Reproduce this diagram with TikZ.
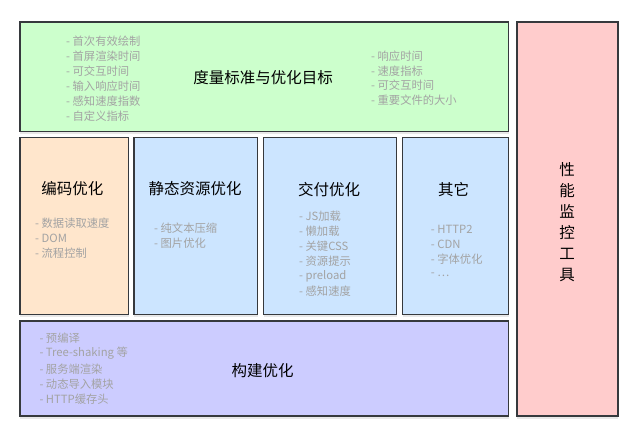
\documentclass[tikz,border=0pt]{standalone}
\usepackage{fontspec}
\setmainfont{Noto Sans CJK SC}
\usepackage{tikz}
\usetikzlibrary{positioning}
\usetikzlibrary{shadows}
\definecolor{boxline}{HTML}{36393D}
\definecolor{goalgreen}{HTML}{CCFFCC}
\definecolor{toolred}{HTML}{FFCCCC}
\definecolor{codeorange}{HTML}{FFE6CC}
\definecolor{optblue}{HTML}{CCE5FF}
\definecolor{buildpurple}{HTML}{CCCCFF}
\definecolor{itemgray}{HTML}{A3A3A3}
\tikzset{panel/.style={draw=boxline, line width=1.4pt, inner sep=0pt,
    drop shadow={opacity=0.18, shadow xshift=0pt, shadow yshift=-2.5pt}}}
\tikzset{title/.style={font=\fontsize{15.5}{19}\selectfont, text=black, inner sep=0pt}}
\tikzset{item/.style={font=\fontsize{11.3}{14}\selectfont, text=itemgray, anchor=west, inner sep=0pt}}

\begin{document}
\begin{tikzpicture}[x=1pt,y=-1pt]
    \useasboundingbox (0,0) rectangle (638,436);
    % boxes
    \foreach \lab/\xa/\ya/\xb/\yb/\c in {
      goal/20/22/508.5/131.5/goalgreen,
      tools/517/22/618/416/toolred,
      code/20/137.5/128.5/314.5/codeorange,
      static/134/137.5/257.5/314.5/optblue,
      deliver/263.5/137.5/396.5/314.5/optblue,
      other/402.5/137.5/508.5/314.5/optblue,
      build/20/321/508.5/416/buildpurple%
    } {
      \node[panel, fill=\c, minimum width={(\xb-\xa)*1pt}, minimum height={(\yb-\ya)*1pt}]
        (\lab) at ({(\xa+\xb)/2}, {(\ya+\yb)/2}) {};
    }
    % titles
    \foreach \lab/\x/\y/\tx in {
      goal/263/78/度量标准与优化目标,
      code/72.5/189/编码优化,
      static/195/189/静态资源优化,
      deliver/329/189.5/交付优化,
      other/453.5/189.5/其它,
      build/262.5/370.5/构建优化%
    } {
      \node[title] (\lab-title) at (\x, \y) {\tx};
    }
    \node[title, align=center, font=\fontsize{15.5}{21}\selectfont] (tools-title) at (567, 222)
      {性\\能\\监\\控\\工\\具};
    % lists
    \foreach \lab/\x/\y/\dy/\items in {
      goalL/66/41.7/14.8/{首次有效绘制,首屏渲染时间,可交互时间,输入响应时间,感知速度指数,自定义指标},
      goalR/371/56/14.8/{响应时间,速度指标,可交互时间,重要文件的大小},
      code/35/223/15.2/{数据读取速度,DOM,流程控制},
      static/154/228.3/15/{纯文本压缩,图片优化},
      deliver/299/216/15.1/{JS加载,懒加载,关键CSS,资源提示,preload,感知速度},
      other/430.7/229/15.1/{HTTP2,CDN,字体优化,\ldots},
      build/39.3/338.3/15.2/{预编译,Tree-shaking 等,服务端渲染,动态导入模块,HTTP缓存头}%
    } {
      \foreach \tx [count=\i from 0] in \items {
        \node[item] (\lab-\i) at (\x, {\y+\i*\dy}) {- \tx};
      }
    }
  \end{tikzpicture}
\end{document}
